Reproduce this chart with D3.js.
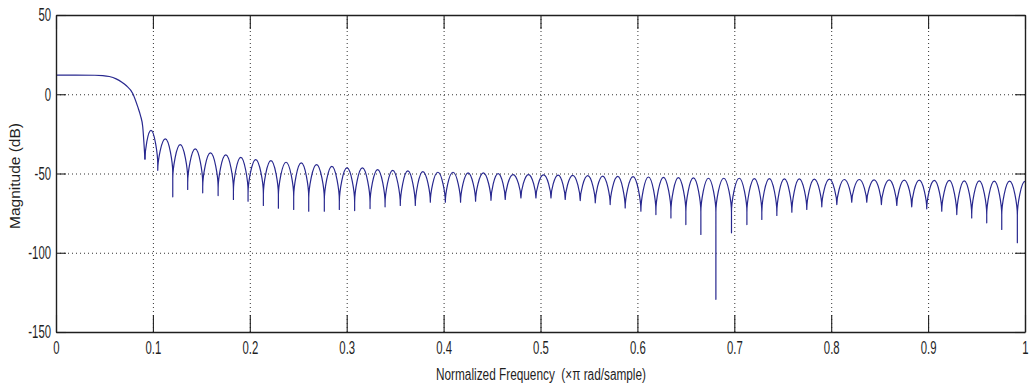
<!DOCTYPE html>
<html>
<head>
<meta charset="utf-8">
<script src="https://cdn.jsdelivr.net/npm/d3@7"></script>
<style>
  html, body { margin: 0; padding: 0; background: #fff; }
  svg { display: block; }
  text { font-family: "Liberation Sans", Arial, Helvetica, sans-serif; }
</style>
</head>
<body>
<svg id="chart" width="1030" height="389"></svg>
<script>
// Passband and transition band: frequency (x pi rad/sample), magnitude (dB)
const passFreq = [0, 0.02, 0.04, 0.0483, 0.055, 0.0621, 0.068, 0.0724, 0.0792, 0.0844, 0.0872, 0.0895];
const passDb   = [12.1, 12.1, 12.0, 11.8, 11.2, 9.7, 7.6, 5.5, 0.5, -8.0, -13.5, -20.5];

// Stopband nulls
const nullFreq = [0.0918, 0.1050, 0.1205, 0.1359, 0.1514, 0.1673, 0.1831, 0.1982, 0.2140, 0.2295,
                  0.2453, 0.2608, 0.2769, 0.2924, 0.3082, 0.3241, 0.3396, 0.3553, 0.3708, 0.3863,
                  0.4018, 0.4175, 0.4330, 0.4489, 0.4636, 0.4798, 0.4953, 0.5108, 0.5255, 0.5410,
                  0.5565, 0.5719, 0.5874, 0.6036, 0.6191, 0.6346, 0.6500, 0.6655, 0.6810, 0.6971,
                  0.7130, 0.7284, 0.7439, 0.7594, 0.7748, 0.7903, 0.8058, 0.8212, 0.8367, 0.8518,
                  0.8677, 0.8831, 0.8986, 0.9141, 0.9296, 0.9450, 0.9605, 0.9760, 0.9921];
const nullDb   = [-41.2, -48.0, -64.7, -60.1, -62.2, -63.9, -66.4, -67.5, -70.2, -71.9,
                  -72.7, -73.8, -73.8, -72.7, -73.4, -72.1, -71.0, -70.2, -70.2, -68.1,
                  -68.1, -68.1, -67.5, -66.9, -66.4, -65.4, -65.4, -65.4, -66.4, -67.1,
                  -68.5, -69.6, -71.7, -73.8, -75.9, -78.0, -82.2, -88.5, -129.4, -87.4,
                  -82.2, -79.0, -76.5, -74.4, -72.7, -71.0, -69.6, -68.1, -68.1, -69.6,
                  -70.2, -71.0, -72.3, -73.8, -75.9, -78.0, -81.1, -85.3, -93.7];

// Sidelobe peaks, one between each pair of neighbouring nulls
const peakFreq = [0.0980, 0.1128, 0.1282, 0.1437, 0.1594, 0.1752, 0.1907, 0.2061, 0.2218, 0.2374,
                  0.2531, 0.2689, 0.2847, 0.3003, 0.3162, 0.3319, 0.3475, 0.3631, 0.3786, 0.3941,
                  0.4097, 0.4253, 0.4410, 0.4563, 0.4717, 0.4876, 0.5031, 0.5182, 0.5333, 0.5488,
                  0.5642, 0.5797, 0.5955, 0.6114, 0.6269, 0.6423, 0.6578, 0.6733, 0.6891, 0.7051,
                  0.7207, 0.7362, 0.7517, 0.7671, 0.7826, 0.7981, 0.8135, 0.8290, 0.8443, 0.8598,
                  0.8754, 0.8909, 0.9064, 0.9219, 0.9373, 0.9528, 0.9683, 0.9841];
const peakDb   = [-22.8, -28.2, -31.8, -34.5, -37.0, -38.3, -39.8, -41.2, -41.9, -42.9,
                  -43.3, -44.4, -45.5, -46.5, -46.5, -47.5, -48.0, -48.4, -48.8, -49.2,
                  -49.2, -49.6, -49.6, -50.1, -50.7, -50.7, -50.9, -51.0, -51.2, -51.4,
                  -51.6, -51.8, -52.0, -52.2, -52.4, -52.6, -52.8, -53.0, -53.0, -53.0,
                  -53.2, -53.2, -53.4, -53.4, -53.6, -53.6, -53.8, -53.8, -54.0, -54.0,
                  -54.2, -54.2, -54.4, -54.4, -54.6, -54.6, -54.8, -54.8];

// Response at the Nyquist edge
const edgeFreq = [1.0];
const edgeDb   = [-55.0];

const xTicks      = [0, 0.1, 0.2, 0.3, 0.4, 0.5, 0.6, 0.7, 0.8, 0.9, 1];
const xTickLabels = ["0", "0.1", "0.2", "0.3", "0.4", "0.5", "0.6", "0.7", "0.8", "0.9", "1"];
const yTicks      = [-150, -100, -50, 0, 50];
const yTickLabels = ["-150", "-100", "-50", "0", "50"];
const xGrid = [0.1, 0.2, 0.3, 0.4, 0.5, 0.6, 0.7, 0.8, 0.9];
const yGrid = [-100, -50, 0];

const xTitle = "Normalized Frequency  (\u00d7\u03c0 rad/sample)";
const yTitle = "Magnitude (dB)";

// ---- layout ----
const svg = d3.select("#chart");
const plotL = 56, plotR = 1025, plotT = 15, plotB = 332;
const x = d3.scaleLinear().domain([0, 1]).range([plotL, plotR]);
const y = d3.scaleLinear().domain([-150, 50]).range([plotB, plotT]);
const ink = "#1f1f1f";

// Scalloped sidelobe curve: sharp cusps at the nulls, rounded tops at the peaks.
function curveScallop(context) {
  const KNEE = 34, HOLD = 0.3, REACH = 0.5;
  let x0, y0, n = 0;
  return {
    areaStart() {}, areaEnd() {},
    lineStart() { n = 0; },
    lineEnd() {},
    point(px, py) {
      px = +px; py = +py;
      if (n++ === 0) {
        context.moveTo(px, py);
      } else if (py > y0) {            // falling into a null
        const yk = Math.min(py, y0 + KNEE);
        context.bezierCurveTo(x0 + (px - x0) * REACH, y0, px, yk - (yk - y0) * HOLD, px, yk);
        if (yk < py) context.lineTo(px, py);
      } else {                          // climbing out of a null
        const yk = Math.min(y0, py + KNEE);
        if (yk < y0) context.lineTo(x0, yk);
        context.bezierCurveTo(x0, yk - (yk - py) * HOLD, x0 + (px - x0) * (1 - REACH), py, px, py);
      }
      x0 = px; y0 = py;
    }
  };
}

// grid
const grid = svg.append("g")
  .attr("stroke", "#333").attr("stroke-width", 1).attr("stroke-dasharray", "1,3");
grid.selectAll("line.vx").data(xGrid).join("line")
  .attr("x1", d => x(d) + 0.5).attr("x2", d => x(d) + 0.5)
  .attr("y1", plotT).attr("y2", plotB);
grid.selectAll("line.hy").data(yGrid).join("line")
  .attr("x1", plotL).attr("x2", plotR)
  .attr("y1", d => y(d) + 0.5).attr("y2", d => y(d) + 0.5);

// response trace
const passPts = passFreq.map((f, i) => [f, passDb[i]]).concat([[nullFreq[0], nullDb[0]]]);
const stopPts = [];
nullFreq.forEach((f, i) => {
  stopPts.push([f, nullDb[i]]);
  if (i < peakFreq.length) stopPts.push([peakFreq[i], peakDb[i]]);
});
edgeFreq.forEach((f, i) => stopPts.push([f, edgeDb[i]]));

const trace = svg.append("g")
  .attr("fill", "none").attr("stroke", "#28288f").attr("stroke-width", 1.2)
  .attr("stroke-linejoin", "round");
trace.append("path")
  .attr("d", d3.line().x(d => x(d[0])).y(d => y(d[1])).curve(d3.curveMonotoneX)(passPts));
trace.append("path")
  .attr("d", d3.line().x(d => x(d[0])).y(d => y(d[1])).curve(curveScallop)(stopPts));

// axes box with inward ticks
const fmtX = (d, i) => xTickLabels[i];
const fmtY = (d, i) => yTickLabels[i];

const gx = svg.append("g").attr("transform", `translate(0,${plotB})`)
  .call(d3.axisBottom(x).tickValues(xTicks).tickFormat(fmtX)
    .tickSize(-17).tickSizeOuter(0).tickPadding(9));
const gy = svg.append("g").attr("transform", `translate(${plotL},0)`)
  .call(d3.axisLeft(y).tickValues(yTicks).tickFormat(fmtY)
    .tickSize(-10).tickSizeOuter(0).tickPadding(5));
const gt = svg.append("g").attr("transform", `translate(0,${plotT})`)
  .call(d3.axisTop(x).tickValues(xTicks).tickFormat("")
    .tickSize(-14).tickSizeOuter(0));
const gr = svg.append("g").attr("transform", `translate(${plotR},0)`)
  .call(d3.axisRight(y).tickValues(yTicks).tickFormat("")
    .tickSize(-10).tickSizeOuter(0));

[gx, gy, gt, gr].forEach(g => {
  g.attr("color", ink);
  g.select(".domain").attr("stroke-width", 1.4);
  g.selectAll(".tick line").attr("stroke-width", 1.1);
});

// tick labels: tall, narrow lettering
[gx, gy].forEach(g => {
  g.selectAll(".tick text")
    .attr("font-size", 18)
    .attr("font-family", "'Liberation Sans', Arial, sans-serif")
    .attr("fill", ink)
    .each(function () {
      const w = this.getComputedTextLength();
      d3.select(this).attr("textLength", w * 0.63).attr("lengthAdjust", "spacingAndGlyphs");
    });
});

// axis titles
svg.append("text")
  .attr("x", (plotL + plotR) / 2 + 0.5).attr("y", 380)
  .attr("text-anchor", "middle")
  .attr("font-size", 16).attr("fill", ink)
  .style("white-space", "pre")
  .attr("textLength", 210).attr("lengthAdjust", "spacingAndGlyphs")
  .text(xTitle);

svg.append("text")
  .attr("transform", "translate(20,176) rotate(-90)")
  .attr("text-anchor", "middle")
  .attr("font-size", 14).attr("fill", ink)
  .attr("textLength", 106).attr("lengthAdjust", "spacingAndGlyphs")
  .text(yTitle);
</script>
</body>
</html>
